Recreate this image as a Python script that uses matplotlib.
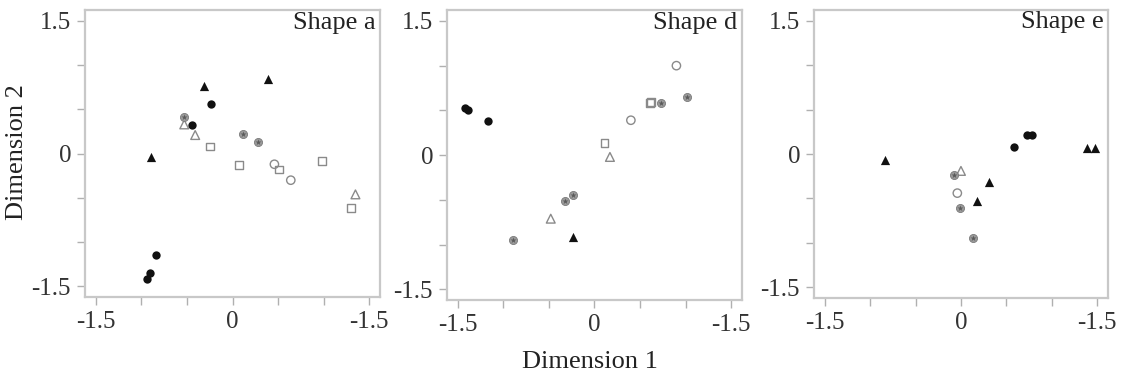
import matplotlib
matplotlib.use('Agg')
import matplotlib.pyplot as plt

plt.rcParams['font.family'] = ['Liberation Serif', 'DejaVu Serif']

panel_titles = ["Shape a", "Shape d", "Shape e"]
tick_values = [-1.5, -1.0, -0.5, 0.0, 0.5, 1.0, 1.5]
x_tick_labels = ["-1.5", "", "", "0", "", "", "-1.5"]
y_tick_labels = ["-1.5", "", "", "0", "", "", "1.5"]

# shape a
a_black_tri_x = [-0.31, 0.39, -0.89]
a_black_tri_y = [0.76, 0.84, -0.04]
a_black_dot_x = [-0.24, -0.45, -0.84, -0.91, -0.94]
a_black_dot_y = [0.56, 0.32, -1.15, -1.35, -1.42]
a_gray_star_x = [-0.53, 0.11, 0.28]
a_gray_star_y = [0.41, 0.22, 0.13]
a_open_tri_x = [-0.53, -0.41, 1.35]
a_open_tri_y = [0.33, 0.21, -0.46]
a_open_sq_x = [-0.25, 0.07, 0.98, 1.30, 0.51]
a_open_sq_y = [0.08, -0.13, -0.08, -0.61, -0.18]
a_open_circ_x = [0.46, 0.64]
a_open_circ_y = [-0.12, -0.30]

# shape d
d_black_tri_x = [-0.24]
d_black_tri_y = [-0.91]
d_black_dot_x = [-1.42, -1.39, -1.17]
d_black_dot_y = [0.53, 0.51, 0.38]
d_gray_star_x = [-0.90, -0.32, -0.24, 0.73, 1.02]
d_gray_star_y = [-0.95, -0.51, -0.45, 0.58, 0.65]
d_open_tri_x = [-0.48, 0.17]
d_open_tri_y = [-0.71, -0.02]
d_open_sq_x = [0.11, 0.61, 0.62]
d_open_sq_y = [0.14, 0.58, 0.59]
d_open_circ_x = [0.40, 0.90]
d_open_circ_y = [0.39, 1.00]

# shape e
e_black_tri_x = [-0.84, 0.18, 0.31, 1.39, 1.48]
e_black_tri_y = [-0.07, -0.53, -0.31, 0.07, 0.07]
e_black_dot_x = [0.59, 0.73, 0.78]
e_black_dot_y = [0.08, 0.21, 0.21]
e_gray_star_x = [-0.08, -0.01, 0.13]
e_gray_star_y = [-0.24, -0.61, -0.94]
e_open_tri_x = [0.0]
e_open_tri_y = [-0.19]
e_open_sq_x = []
e_open_sq_y = []
e_open_circ_x = [-0.04]
e_open_circ_y = [-0.44]

panels = [
    (a_black_tri_x, a_black_tri_y, a_black_dot_x, a_black_dot_y, a_gray_star_x, a_gray_star_y,
     a_open_tri_x, a_open_tri_y, a_open_sq_x, a_open_sq_y, a_open_circ_x, a_open_circ_y),
    (d_black_tri_x, d_black_tri_y, d_black_dot_x, d_black_dot_y, d_gray_star_x, d_gray_star_y,
     d_open_tri_x, d_open_tri_y, d_open_sq_x, d_open_sq_y, d_open_circ_x, d_open_circ_y),
    (e_black_tri_x, e_black_tri_y, e_black_dot_x, e_black_dot_y, e_gray_star_x, e_gray_star_y,
     e_open_tri_x, e_open_tri_y, e_open_sq_x, e_open_sq_y, e_open_circ_x, e_open_circ_y),
]

axes_rects = [
    [0.0757, 0.212, 0.2627, 0.761],
    [0.398, 0.204, 0.2627, 0.769],
    [0.7248, 0.2095, 0.2618, 0.764],
]

fig = plt.figure(figsize=(11.23, 3.77), dpi=100)
frame_col = '#c8c8c8'
open_col = '#8a8a8a'

for rect, title, pts in zip(axes_rects, panel_titles, panels):
    (btx, bty, bdx, bdy, gsx, gsy, otx, oty, osx, osy, ocx, ocy) = pts
    ax = fig.add_axes(rect)

    ax.scatter(osx, osy, marker='s', s=32, facecolors='none', edgecolors=open_col, linewidths=1.0, zorder=2)
    ax.scatter(ocx, ocy, marker='o', s=36, facecolors='none', edgecolors=open_col, linewidths=1.0, zorder=2)
    ax.scatter(otx, oty, marker='^', s=40, facecolors='none', edgecolors=open_col, linewidths=1.0, zorder=2)
    ax.scatter(gsx, gsy, marker='o', s=34, facecolors='#9a9a9a', edgecolors='#7a7a7a', linewidths=0.6, zorder=3)
    ax.scatter(gsx, gsy, marker='*', s=20, color='#5a5a5a', linewidths=0, zorder=3)
    ax.scatter(bdx, bdy, marker='o', s=36, color='#111111', linewidths=0, zorder=4)
    ax.scatter(btx, bty, marker='^', s=44, color='#111111', linewidths=0, zorder=4)

    ax.set_xlim(-1.62, 1.62)
    ax.set_ylim(-1.62, 1.62)
    ax.set_xticks(tick_values)
    ax.set_xticklabels(x_tick_labels)
    ax.set_yticks(tick_values)
    ax.set_yticklabels(y_tick_labels)
    ax.tick_params(axis='both', direction='out', length=6, width=1.0, color='#b0b0b0',
                   labelsize=18, labelcolor='#333333', pad=4)
    for sp in ax.spines.values():
        sp.set_color(frame_col)
        sp.set_linewidth(1.6)

    ax.text(0.985, 0.995, title, transform=ax.transAxes, ha='right', va='top',
            fontsize=19, color='#222222')

fig.text(590 / 1123, 1 - 362 / 377, "Dimension 1", ha='center', va='center', fontsize=19, color='#222222')
fig.text(17 / 1123, 1 - 152 / 377, "Dimension 2", ha='center', va='center', rotation=90,
         fontsize=19, color='#222222')

fig.savefig('out.png', dpi=100)
plt.close(fig)
